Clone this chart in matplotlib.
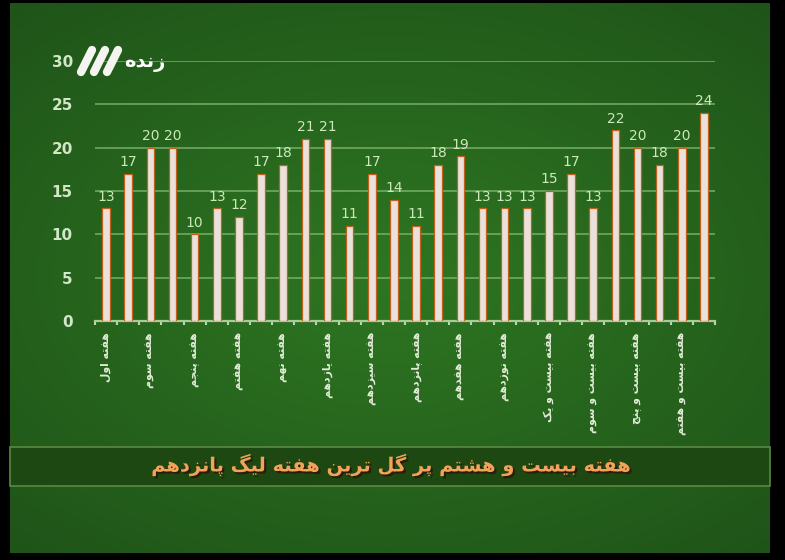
import numpy as np
from matplotlib import pyplot as plt
from matplotlib.lines import Line2D
from matplotlib.patches import Rectangle
import matplotlib.patheffects as pe

# goals scored in each week of the league (weeks 1..28)
goals = [13, 17, 20, 20, 10, 13, 12, 17, 18, 21, 21, 11, 17, 14,
         11, 18, 19, 13, 13, 13, 15, 17, 13, 22, 20, 18, 20, 24]
# only every second week is labelled on the chart
week_labels = ["هفته اول", "هفته سوم", "هفته پنجم", "هفته هفتم", "هفته نهم",
               "هفته یازدهم", "هفته سیزدهم", "هفته پانزدهم", "هفته هفدهم",
               "هفته نوزدهم", "هفته بیست و یک", "هفته بیست و سوم",
               "هفته بیست و پنج", "هفته بیست و هفتم"]
title = "هفته بیست و هشتم پر گل ترین هفته لیگ پانزدهم"
logo = "زنده"
y_ticks = [0, 5, 10, 15, 20, 25, 30]

# matplotlib has no arabic shaping, so pick the joined glyph forms by hand
FORMS = {
    "ا": ("\uFE8D", "\uFE8E"), "د": ("\uFEA9", "\uFEAA"), "ذ": ("\uFEAB", "\uFEAC"),
    "ر": ("\uFEAD", "\uFEAE"), "ز": ("\uFEAF", "\uFEB0"), "ژ": ("\uFB8A", "\uFB8B"),
    "و": ("\uFEED", "\uFEEE"),
    "ب": ("\uFE8F", "\uFE90", "\uFE91", "\uFE92"), "پ": ("\uFB56", "\uFB57", "\uFB58", "\uFB59"),
    "ت": ("\uFE95", "\uFE96", "\uFE97", "\uFE98"), "ج": ("\uFE9D", "\uFE9E", "\uFE9F", "\uFEA0"),
    "س": ("\uFEB1", "\uFEB2", "\uFEB3", "\uFEB4"), "ش": ("\uFEB5", "\uFEB6", "\uFEB7", "\uFEB8"),
    "ف": ("\uFED1", "\uFED2", "\uFED3", "\uFED4"), "ک": ("\uFB8E", "\uFB8F", "\uFB90", "\uFB91"),
    "گ": ("\uFB92", "\uFB93", "\uFB94", "\uFB95"), "ل": ("\uFEDD", "\uFEDE", "\uFEDF", "\uFEE0"),
    "م": ("\uFEE1", "\uFEE2", "\uFEE3", "\uFEE4"), "ن": ("\uFEE5", "\uFEE6", "\uFEE7", "\uFEE8"),
    "ه": ("\uFEE9", "\uFEEA", "\uFEEB", "\uFEEC"), "ی": ("\uFBFC", "\uFBFD", "\uFBFE", "\uFBFF"),
}


def shape(text):
    out = []
    for i, c in enumerate(text):
        if c not in FORMS:
            out.append(c)
            continue
        prev = text[i - 1] if i > 0 else None
        nxt = text[i + 1] if i + 1 < len(text) else None
        f = FORMS[c]
        join_prev = prev in FORMS and len(FORMS[prev]) == 4
        join_next = nxt in FORMS and len(f) == 4
        if join_prev and join_next:
            out.append(f[3])
        elif join_prev:
            out.append(f[1])
        elif join_next:
            out.append(f[2])
        else:
            out.append(f[0])
    return "".join(out)[::-1]


plt.rcParams["font.family"] = ["DejaVu Sans"]

fig = plt.figure(figsize=(7.85, 5.6), dpi=100)
fig.patch.set_facecolor("black")

# green board background, a bit lighter in the middle
bg = fig.add_axes([10 / 785, 7 / 560, 760 / 785, 550 / 560])
gx, gy = np.meshgrid(np.linspace(-1, 1, 300), np.linspace(-1, 1, 200))
r = np.clip(np.sqrt((gx * 0.75) ** 2 + (gy * 0.85) ** 2), 0, 1.2) / 1.2
dark = np.array([30, 82, 24]) / 255
light = np.array([46, 118, 34]) / 255
img = light[None, None, :] * (1 - r[..., None]) + dark[None, None, :] * r[..., None]
bg.imshow(img, aspect="auto", extent=[0, 1, 0, 1])
bg.set_axis_off()

ax = fig.add_axes([95 / 785, (560 - 321) / 560, 620 / 785, 260 / 560])
ax.patch.set_alpha(0)
x = np.arange(len(goals))
ax.bar(x, goals, width=0.34, color="#ebe1dc", edgecolor="#c0621c", linewidth=0.9, zorder=3)
for xi, g in zip(x, goals):
    ax.text(xi, g + 0.55, str(g), ha="center", va="bottom", fontsize=10,
            color="#cbe9bb", zorder=4)

ax.set_xlim(-0.5, 27.5)
ax.set_ylim(0, 30)
ax.set_yticks(y_ticks)
ax.set_yticklabels([str(t) for t in y_ticks], fontsize=11, color="#d2e6c8", fontweight="semibold")
ax.tick_params(axis="y", length=0, pad=16)
ax.set_xticks(x[::2])
ax.set_xticklabels([shape(s) for s in week_labels], rotation=90, fontsize=7.8,
                   color="#e3ead9", fontweight="bold")
ax.set_xticks(np.arange(-0.5, 28, 1), minor=True)
ax.tick_params(axis="x", which="major", length=0, pad=8)
ax.tick_params(axis="x", which="minor", length=3, color="#b8d8a8", width=1.5)
for t in y_ticks[1:]:
    ax.axhline(t, color="#8cbf7c", alpha=0.8, linewidth=1.1, zorder=1)
for side in ["top", "right", "left"]:
    ax.spines[side].set_visible(False)
ax.spines["bottom"].set_color("#a8cc98")
ax.spines["bottom"].set_linewidth(1.6)

# title band
fig.patches.append(Rectangle((10 / 785, (560 - 486) / 560), 760 / 785, 39 / 560,
                             transform=fig.transFigure, facecolor="#1d4812",
                             edgecolor="#5a8a44", linewidth=1.2, zorder=2))
fig.text(0.5, (560 - 465) / 560, shape(title), ha="center", va="center", fontsize=14,
         fontweight="bold", color="#f2a25a", zorder=3,
         path_effects=[pe.withSimplePatchShadow(offset=(1.5, -1.5), shadow_rgbFace="#2a1a08", alpha=0.9)])

# channel logo
for x0 in [81, 94, 107]:
    fig.add_artist(Line2D([x0 / 785, (x0 + 11) / 785], [(560 - 72) / 560, (560 - 50) / 560],
                          color="#f4f4f0", linewidth=6, solid_capstyle="round", zorder=5))
fig.text(124 / 785, (560 - 63) / 560, shape(logo), ha="left", va="center", fontsize=14,
         fontweight="bold", color="white", zorder=5)

fig.savefig("out.png", dpi=100, facecolor=fig.get_facecolor())
